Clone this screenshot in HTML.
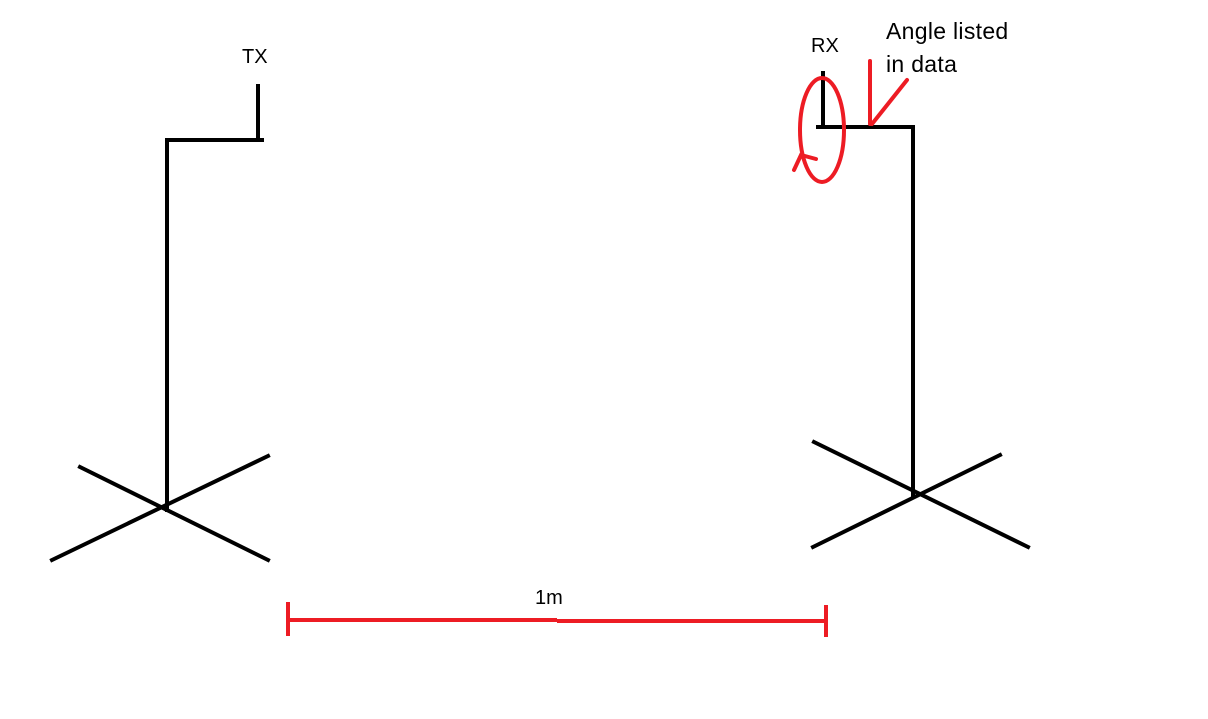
<!DOCTYPE html>
<html><head><meta charset="utf-8"><style>
html,body{margin:0;padding:0;background:#fff;width:1208px;height:719px;overflow:hidden}
text{font-family:"Liberation Sans",sans-serif;font-size:20px;fill:#000}
.note{font-size:23px;letter-spacing:0.3px}
</style></head><body>
<svg width="1208" height="719" viewBox="0 0 1208 719">
<g stroke="#000" stroke-width="4" fill="none" stroke-linecap="square">
<line x1="258" y1="86" x2="258" y2="139"/>
<line x1="167" y1="140" x2="262" y2="140"/>
<line x1="167" y1="140" x2="167" y2="510"/>
<line x1="80" y1="467" x2="268" y2="560"/>
<line x1="52" y1="560" x2="268" y2="456"/>
</g>
<text x="242" y="63">TX</text>
<g stroke="#000" stroke-width="4" fill="none" stroke-linecap="square">
<line x1="823" y1="73" x2="823" y2="126"/>
<line x1="818" y1="127" x2="913" y2="127"/>
<line x1="913" y1="127" x2="913" y2="497"/>
<line x1="814" y1="442" x2="1028" y2="547"/>
<line x1="813" y1="547" x2="1000" y2="455"/>
</g>
<text x="811" y="52">RX</text>
<g stroke="#ed1c24" stroke-width="4" fill="none" stroke-linecap="round">
<ellipse cx="822" cy="130" rx="22" ry="52"/>
<polyline points="794,170 801,155 816,159"/>
<line x1="870" y1="61" x2="870" y2="124"/>
<line x1="907" y1="80" x2="872" y2="124"/>
</g>
<text class="note" x="886" y="39">Angle listed</text>
<text class="note" x="886" y="72">in data</text>
<g stroke="#ed1c24" stroke-width="4" fill="none">
<line x1="288" y1="620" x2="557" y2="620"/>
<line x1="557" y1="621" x2="826" y2="621"/>
<line x1="288" y1="602" x2="288" y2="636"/>
<line x1="826" y1="605" x2="826" y2="637"/>
</g>
<text x="535" y="604">1m</text>
</svg>
</body></html>
